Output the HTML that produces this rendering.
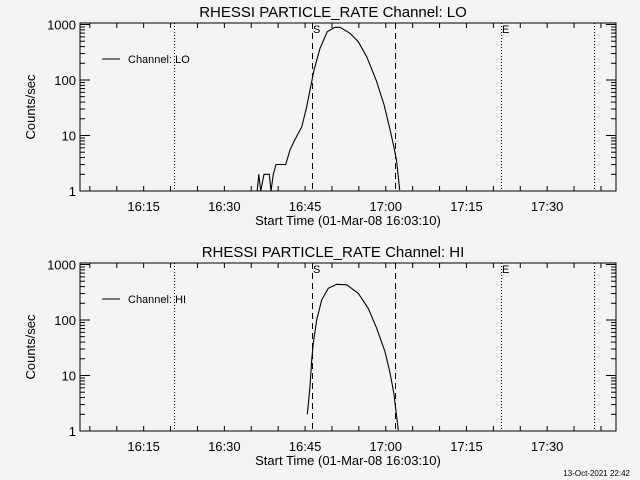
<!DOCTYPE html>
<html><head><meta charset="utf-8">
<style>
html,body{margin:0;padding:0;background:#f4f4f4;}
svg{display:block;font-family:"Liberation Sans",sans-serif;}
</style></head>
<body>
<svg id="chart" width="640" height="480" viewBox="0 0 640 480">
<rect x="0" y="0" width="640" height="480" fill="#f4f4f4"/>
<text x="630" y="476" font-size="8" text-anchor="end" fill="#000">13-Oct-2021 22:42</text>
</svg>
<script>
// time in minutes after 16:00
const loTimes = [36.1,36.4,36.75,37.37,38.35,38.67,39.1,39.6,40.35,41.4,42.2,43.0,44.4,45.3,46.05,46.66,47.78,49.13,50.56,51.5,53.35,54.9,56.45,58.2,59.7,60.8,61.5,62.0,62.6];
const loCounts = [1,2,1,2,2,1,2,3,3,3,5.5,8,14.4,33,76,151,373,741,891,891,693,490,263,100,35.5,12.6,6.3,3.6,1.04];
const hiTimes = [45.42,45.92,46.24,46.53,47.16,48.1,49.32,50.88,52.74,54.9,56.76,58.32,59.86,60.8,61.5,62.33];
const hiCounts = [2.0,6.3,19,38,100,230,373,440,430,302,162,71,27,11,4.8,1.04];
const xTickLabels = ["16:15","16:30","16:45","17:00","17:15","17:30"];
const xTickMinutes = [15,30,45,60,75,90];
const yTickLabels = ["1","10","100","1000"];
const yTickValues = [1,10,100,1000];
const markerTimes = [20.64,46.29,61.72,81.42,98.7]; // dotted, S dashed, dashed, E dotted, dotted
const markerStyles = ["dot","dash","dash","dot","dot"];

const NS="http://www.w3.org/2000/svg";
const svg=document.getElementById('chart');
const X0=80,X1=616,T0=3.167,PXM=5.38;
const xs=m=>X0+(m-T0)*PXM;
function mk(tag,attrs,parent){const e=document.createElementNS(NS,tag);for(const k in attrs)e.setAttribute(k,attrs[k]);(parent||svg).appendChild(e);return e;}

function panel(off,chName,times,counts,tag){
  const g=mk('g',{});
  
  
  const Y0=191+off, top=23+off, DEC=55.5;
  const ys=v=>Y0-Math.log10(Math.max(v,1))*DEC;
  const t=mk('text',{x:333,y:17+off,'font-size':15,'text-anchor':'middle'},g);
  t.textContent='RHESSI PARTICLE_RATE Channel: '+chName;
  
  
  const fr=mk('rect',{x:X0,y:top,width:X1-X0,height:Y0-top,fill:'none',stroke:'#000','stroke-width':1},g);
  
  
  for(let m=5;m<=100;m+=5){const x=xs(m);if(x<X0||x>X1)continue;
    mk('line',{x1:x,y1:Y0,x2:x,y2:Y0-5,stroke:'#000'},g);
    mk('line',{x1:x,y1:top,x2:x,y2:top+5,stroke:'#000'},g);}
  xTickLabels.forEach((lb,i)=>{const tx=mk('text',{x:xs(xTickMinutes[i]),y:Y0+20,'font-size':13,'text-anchor':'middle'},g);tx.textContent=lb;
    
    });
  const xt=mk('text',{x:348,y:Y0+34,'font-size':13,'text-anchor':'middle'},g);
  xt.textContent='Start Time (01-Mar-08 16:03:10)';
  
  
  for(let d=0;d<4;d++)for(let k=1;k<=9;k++){const v=Math.pow(10,d)*k;const y=ys(v);if(y<top)continue;
    const L=k===1?10:5;
    mk('line',{x1:X0,y1:y,x2:X0+L,y2:y,stroke:'#000'},g);
    mk('line',{x1:X1,y1:y,x2:X1-L,y2:y,stroke:'#000'},g);}
  yTickLabels.forEach((lb,i)=>{const ty=mk('text',{x:76,y:ys(yTickValues[i])+5,'font-size':13,'text-anchor':'end'},g);ty.textContent=lb;
    
    });
  const yt=mk('text',{x:0,y:0,'font-size':13,'text-anchor':'middle',transform:`translate(35,${107+off}) rotate(-90)`},g);
  yt.textContent='Counts/sec';
  
  
  markerTimes.forEach((m,i)=>{const x=Math.round(xs(m))+0.5;
    const l=mk('line',{x1:x,y1:top,x2:x,y2:Y0,stroke:'#000','stroke-dasharray':markerStyles[i]==='dot'?'1,2':'6,4'},g);
    
    });
  const s=mk('text',{x:xs(markerTimes[1])+1,y:top+10,'font-size':11},g);s.textContent='S';
  
  
  const e=mk('text',{x:xs(markerTimes[3])+1,y:top+10,'font-size':11},g);e.textContent='E';
  
  
  mk('line',{x1:102,y1:59+off,x2:120,y2:59+off,stroke:'#000'},g);
  const lt=mk('text',{x:128,y:63+off,'font-size':11},g);lt.textContent='Channel: '+chName;
  
  
  const pts=times.map((m,i)=>xs(m).toFixed(1)+','+ys(counts[i]).toFixed(1)).join(' ');
  const pl=mk('polyline',{points:pts,fill:'none',stroke:'#000','stroke-width':1.1},g);
  
  
}
panel(0,'LO',loTimes,loCounts,'lo');
panel(240,'HI',hiTimes,hiCounts,'hi');
</script>
</body></html>
